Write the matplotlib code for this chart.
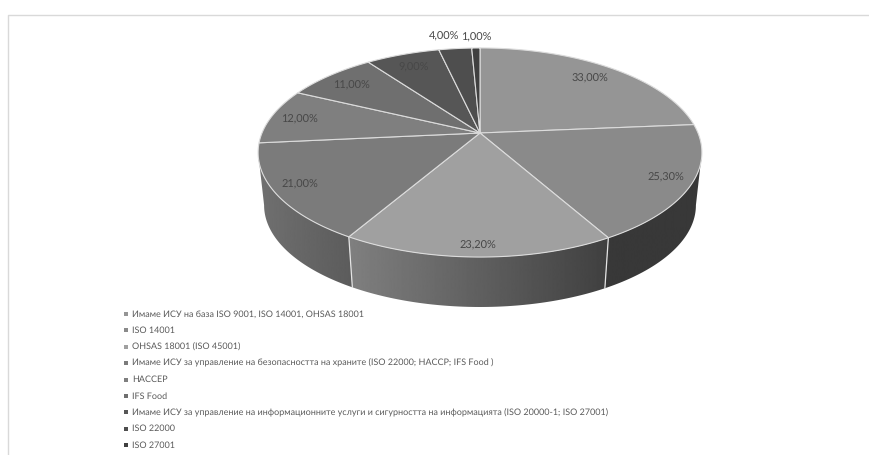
"""Perspective 3D pie of management systems in use, grey print style."""
import numpy as np
import matplotlib
matplotlib.use("Agg")
import matplotlib.pyplot as plt
from matplotlib.patches import Polygon

categories = [
    "Имаме ИСУ на база ISO 9001, ISO 14001, OHSAS 18001",
    "ISO 14001",
    "OHSAS 18001 (ISO 45001)",
    "Имаме ИСУ за управление на безопасността на храните (ISO 22000; HACCP; IFS Food )",
    "HACCEP",
    "IFS Food",
    "Имаме ИСУ за управление на информационните услуги и сигурността на информацията (ISO 20000-1; ISO 27001)",
    "ISO 22000",
    "ISO 27001",
]
values = [33.0, 25.3, 23.2, 21.0, 12.0, 11.0, 9.0, 4.0, 1.0]
slice_colors = ["#959595", "#8a8a8a", "#a0a0a0", "#7b7b7b", "#7f7f7f",
                "#6f6f6f", "#565656", "#4e4e4e", "#404040"]
label_pos = [(590, 78), (666, 177), (478, 245), (300, 184), (300, 119),
             (351, 85), (414, 67), (444, 36), (476, 37)]

W, H = 869, 455
CX, APEX_Y = 480, 133
A, B, K = 218, 100.9, 0.1866
BOTTOM_Y, BOTTOM_SCALE = 186.3, 0.973

plt.rcParams["font.family"] = ["Lato", "Roboto", "DejaVu Sans"]
plt.rcParams["text.hinting"] = "none"
plt.rcParams["text.hinting_factor"] = 1


def project(theta, apex_y=APEX_Y, scale=1.0):
    """Clockwise angle from 12 o'clock to pixel coords on a perspective disc."""
    u, v = np.sin(theta), np.cos(theta)
    d = 1 + K * v
    return np.column_stack([CX + scale * A * u / d, apex_y - scale * B * v / d])


def wall_gradient(ax, poly, x0, x1, v0, v1):
    """Fill a wall polygon with a horizontal grey gradient."""
    patch = Polygon(poly, closed=True, fc="none", ec="none")
    ax.add_patch(patch)
    grad = np.linspace(v0, v1, 256).reshape(1, -1)
    im = ax.imshow(grad, cmap="gray", vmin=0, vmax=1, aspect="auto",
                   extent=(x0, x1, H, 0), zorder=1)
    im.set_clip_path(patch)


fig = plt.figure(figsize=(W / 100, H / 100), dpi=100)
ax = fig.add_axes([0, 0, 1, 1])

edges = np.concatenate([[0], np.cumsum(values)]) / np.sum(values) * 2 * np.pi

# outer walls, visible between the two tangent points of the disc
front_start, front_end = np.pi / 2 + K, 3 * np.pi / 2 - K
wall_shades = {1: (0.22, 0.22), 2: (0.50, 0.25), 3: (0.44, 0.36)}
for i, (v0, v1) in wall_shades.items():
    t0 = max(edges[i], front_start)
    t1 = min(edges[i + 1], front_end)
    t = np.linspace(t0, t1, 80)
    top = project(t)
    bot = project(t, BOTTOM_Y, BOTTOM_SCALE)
    poly = np.vstack([top, bot[::-1]])
    wall_gradient(ax, poly, poly[:, 0].min(), poly[:, 0].max(), v0, v1)
    if i > 1:
        ax.plot(*np.vstack([top[0], bot[0]]).T, color="#e4e4e4", lw=0.9, zorder=2)

# top face
for i, color in enumerate(slice_colors):
    t = np.linspace(edges[i], edges[i + 1], 120)
    poly = np.vstack([[CX, APEX_Y], project(t)])
    ax.add_patch(Polygon(poly, closed=True, fc=color, ec="#dcdcdc", lw=0.8, zorder=3))

for val, (x, y) in zip(values, label_pos):
    ax.text(x, y, f"{val:.2f}%".replace(".", ","), ha="center", va="center",
            fontsize=8, color="#484848", zorder=4)

# legend rows
for i, (name, color) in enumerate(zip(categories, slice_colors)):
    y = 314 + i * 16.4
    ax.plot([126], [y], marker="s", ms=2.4, color=color, mew=0, zorder=4)
    ax.text(132, y, name, ha="left", va="center", fontsize=6.36, color="#5a5a5a")

# chart frame
ax.plot([8, 8, W], [H, 15, 15], color="#d9d9d9", lw=1, zorder=0)

ax.set_xlim(0, W)
ax.set_ylim(H, 0)
ax.axis("off")
fig.savefig("out.png", dpi=100)
